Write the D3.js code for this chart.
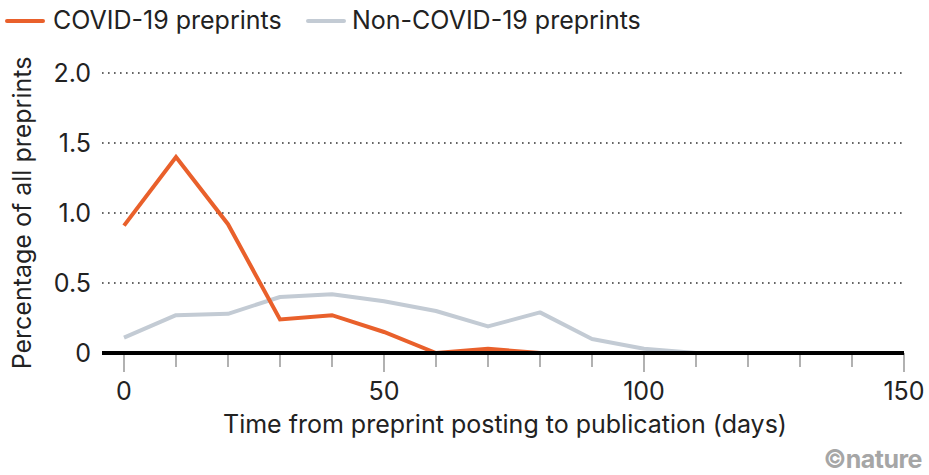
<!DOCTYPE html>
<html><head><meta charset="utf-8">
<script src="https://cdn.jsdelivr.net/npm/d3@7"></script>
<style>body{margin:0;background:#fff}svg{display:block}text{font-family:Inter,"Liberation Sans",Arial,sans-serif}</style>
</head><body><svg id="c" width="929" height="475"></svg>
<script>
const days = [0,10,20,30,40,50,60,70,80,90,100,110,120,130,140,150];
const covid = [0.91,1.40,0.92,0.24,0.27,0.15,0,0.03,0];
const nonCovid = [0.11,0.27,0.28,0.40,0.42,0.37,0.30,0.19,0.29,0.10,0.03,0,0,0,0,0];
const yTicks = [0,0.5,1.0,1.5,2.0];
const yTickLabels = ["0","0.5","1.0","1.5","2.0"];
const xMajor = [0,50,100,150];
const seriesNames = ["COVID-19 preprints","Non-COVID-19 preprints"];
const colors = ["#e9602b","#c3cbd4"];

const svg = d3.select("#c");
const x = d3.scaleLinear().domain([0,150]).range([124,904]);
const y = d3.scaleLinear().domain([0,2]).range([353,73]);

// grid
svg.append("g").selectAll("line").data(yTicks.filter(d=>d>0)).join("line")
  .attr("x1",102).attr("x2",904).attr("y1",d=>y(d)).attr("y2",d=>y(d))
  .attr("stroke","#333").attr("stroke-width",1.6).attr("stroke-dasharray","1.6,4.4");

// y labels
svg.append("g").selectAll("text").data(yTicks).join("text")
  .attr("x",91).attr("y",d=>y(d)+9).attr("text-anchor","end")
  .attr("font-size",25).attr("fill","#222").text((d,i)=>yTickLabels[i]);

// x ticks
svg.append("g").selectAll("line").data(days).join("line")
  .attr("x1",d=>x(d)).attr("x2",d=>x(d)).attr("y1",353)
  .attr("y2",d=>xMajor.includes(d)?372:367)
  .attr("stroke","#888").attr("stroke-width",1.3);
svg.append("g").selectAll("text").data(xMajor).join("text")
  .attr("x",d=>x(d)).attr("y",400).attr("text-anchor","middle")
  .attr("font-size",25).attr("fill","#222").text(d=>d);

// lines
const line = d3.line().x((d,i)=>x(days[i])).y(d=>y(d));
svg.append("path").datum(nonCovid).attr("d",line).attr("fill","none")
  .attr("stroke",colors[1]).attr("stroke-width",4).attr("stroke-linejoin","round");
svg.append("path").datum(covid).attr("d",line).attr("fill","none")
  .attr("stroke",colors[0]).attr("stroke-width",4).attr("stroke-linejoin","miter");

// baseline
svg.append("line").attr("x1",102).attr("x2",904).attr("y1",y(0)).attr("y2",y(0))
  .attr("stroke","#000").attr("stroke-width",4);

// axis titles
svg.append("text").attr("x",505).attr("y",433).attr("text-anchor","middle")
  .attr("font-size",25).attr("fill","#222").text("Time from preprint posting to publication (days)");
svg.append("text").attr("transform","translate(31,213) rotate(-90)").attr("text-anchor","middle")
  .attr("font-size",25).attr("fill","#222").text("Percentage of all preprints");

// legend
const lg = [[7,53],[308,352]];
seriesNames.forEach((n,i)=>{
  svg.append("line").attr("x1",lg[i][0]).attr("x2",lg[i][0]+36).attr("y1",21).attr("y2",21)
    .attr("stroke",colors[i]).attr("stroke-width",4).attr("stroke-linecap","round");
  svg.append("text").attr("x",lg[i][1]).attr("y",29).attr("font-size",25).attr("fill","#222").text(n);
});

// credit
svg.append("text").attr("x",922).attr("y",468).attr("text-anchor","end")
  .attr("font-size",25).attr("font-weight","bold").attr("fill","#a6a6a6")
  .attr("font-family","'Liberation Sans Narrow','DejaVu Sans Condensed',sans-serif")
  .attr("letter-spacing",-0.5).text("©nature");
</script></body></html>
